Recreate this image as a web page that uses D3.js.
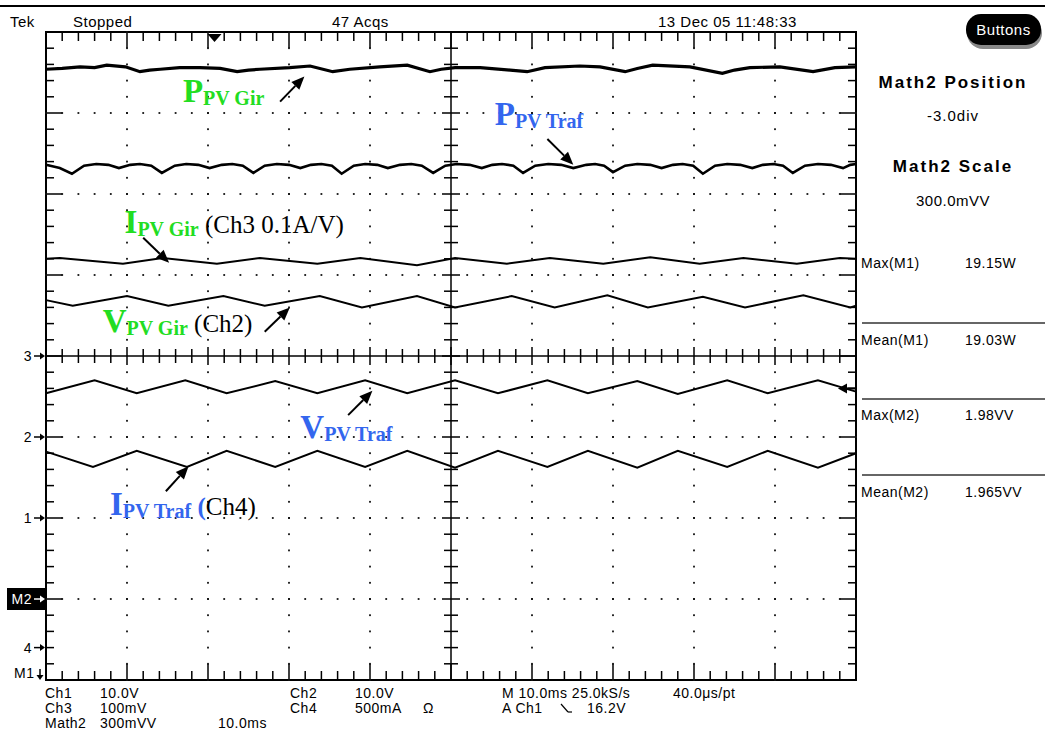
<!DOCTYPE html>
<html>
<head>
<meta charset="utf-8">
<script src="https://cdn.jsdelivr.net/npm/d3@7"></script>
<style>
body { margin: 0; background: #fff; }
text { font-family: "Liberation Sans", Arial, sans-serif; }
.scope { font-size: 15px; letter-spacing: 0.5px; fill: #000; }
.small { font-size: 14px; letter-spacing: 0.5px; fill: #000; }
.ann { font-family: "Liberation Serif", "Times New Roman", serif; }
</style>
</head>
<body>
<svg id="scope" width="1045" height="747"></svg>
<script>
// traces: [time in ms, level in divisions] (10 ms/div, centre line = 0)
var pGir = [[0,3.54],[2.0,3.55],[4.2,3.57],[6.0,3.56],[7.5,3.59],[9.8,3.57],[11.6,3.51],[12.8,3.53],[14.1,3.54],
  [16.5,3.56],[19.0,3.56],[21.5,3.55],[23.6,3.51],[25.0,3.53],[26.4,3.54],[30.1,3.56],[32.6,3.58],[35.4,3.51],
  [37.5,3.54],[41.2,3.57],[44.6,3.59],[47.4,3.51],[48.8,3.54],[50.5,3.56],[53.6,3.56],[57.3,3.53],[59.4,3.51],
  [61.6,3.56],[65.9,3.58],[68.4,3.57],[71.5,3.51],[73.0,3.55],[74.9,3.59],[79.5,3.57],[83.5,3.49],[85.0,3.53],
  [86.9,3.56],[90.6,3.57],[94.7,3.51],[97.4,3.56],[100,3.57]];

var pTraf = [[0,2.36],[1.7,2.32],[3.2,2.25],[4.7,2.35],[6.2,2.37],[7.7,2.36],[9.0,2.32],
  [10.4,2.36],[11.6,2.37],[13.0,2.35],[14.3,2.26],[15.9,2.35],[17.3,2.37],[18.8,2.36],[20.2,2.32],
  [21.7,2.36],[23.0,2.37],[24.3,2.35],[25.6,2.26],[27.0,2.35],[28.5,2.37],[30.0,2.36],[31.4,2.32],
  [32.7,2.36],[34.0,2.37],[35.3,2.35],[36.5,2.25],[38.0,2.35],[39.4,2.37],[40.9,2.36],[42.2,2.32],
  [43.7,2.36],[45.1,2.37],[46.4,2.35],[47.8,2.26],[49.3,2.35],[50.7,2.37],[52.3,2.36],[53.8,2.32],
  [55.1,2.36],[56.3,2.37],[57.7,2.35],[58.9,2.26],[60.4,2.35],[62.0,2.37],[63.6,2.36],[65.1,2.32],
  [66.7,2.36],[67.8,2.37],[68.9,2.35],[70.0,2.27],[71.5,2.35],[73.0,2.37],[74.6,2.36],[76.0,2.32],
  [77.4,2.36],[78.6,2.37],[79.9,2.35],[81.1,2.25],[82.6,2.35],[84.1,2.37],[85.7,2.36],[87.2,2.32],
  [88.5,2.36],[89.8,2.37],[91.0,2.35],[92.2,2.26],[93.7,2.35],[95.3,2.37],[96.9,2.36],[98.4,2.32],
  [99.3,2.36],[100,2.37]];

var iGir = [[0,1.20],[1.7,1.21],[9.5,1.14],[14.4,1.21],[21.1,1.14],[26.4,1.21],[33.5,1.14],[38.8,1.21],
  [45.8,1.12],[50.5,1.21],[56.9,1.14],[62.2,1.21],[68.8,1.14],[74.6,1.22],[80.7,1.14],[86.1,1.21],
  [92.7,1.14],[98.0,1.21],[100,1.20]];

var vGir = [[0,0.69],[3.3,0.62],[10.0,0.74],[15.1,0.62],[21.9,0.74],[27.0,0.62],[33.8,0.74],[39.0,0.60],
  [45.8,0.74],[50.5,0.60],[57.5,0.74],[62.8,0.60],[69.3,0.75],[74.3,0.60],[81.1,0.73],[86.3,0.60],
  [93.5,0.75],[99.3,0.60],[100,0.62]];

var vTraf = [[0,-0.46],[6.0,-0.30],[11.2,-0.46],[17.2,-0.30],[22.3,-0.46],[28.3,-0.31],[33.5,-0.46],
  [39.4,-0.30],[44.6,-0.46],[50.5,-0.30],[55.8,-0.46],[61.9,-0.30],[66.9,-0.46],[73.0,-0.31],
  [78.0,-0.47],[84.1,-0.30],[89.1,-0.46],[95.3,-0.30],[100,-0.44]];

var iTraf = [[0,-1.18],[5.8,-1.37],[11.2,-1.17],[17.4,-1.37],[22.3,-1.17],[28.3,-1.37],[33.5,-1.17],
  [39.4,-1.37],[44.6,-1.17],[50.5,-1.38],[55.8,-1.17],[61.9,-1.37],[66.9,-1.17],[73.0,-1.38],
  [78.0,-1.17],[84.1,-1.37],[89.1,-1.17],[95.3,-1.38],[100,-1.20]];

var traces = [
  {data: pGir, width: 3.2},
  {data: pTraf, width: 2.6},
  {data: iGir, width: 2},
  {data: vGir, width: 2},
  {data: vTraf, width: 2},
  {data: iTraf, width: 2}
];

// channel markers on the left edge
var markerLabels = ["3", "2", "1", "M2", "4"];
var markerLevels = [0, -1, -2, -3, -3.6];
var triggerTime = 20.8;
var triggerLevel = -0.40;

var headerTexts = ["Tek", "Stopped", "47 Acqs", "13 Dec 05 11:48:33"];
var headerX = [10, 73, 332, 658];

var measLabels = ["Max(M1)", "Mean(M1)", "Max(M2)", "Mean(M2)"];
var measValues = ["19.15W", "19.03W", "1.98VV", "1.965VV"];

var settingRows = [
  ["Ch1", "10.0V", "", "Ch2", "10.0V", ""],
  ["Ch3", "100mV", "", "Ch4", "500mA", "\u03a9"],
  ["Math2", "300mVV", "10.0ms", "", "", ""]
];
var timebaseRows = [["M 10.0ms 25.0kS/s", "40.0\u03bcs/pt"], ["A  Ch1", "16.2V"]];

var svg = d3.select("#scope");
var x = d3.scaleLinear().domain([0, 100]).range([46, 856]);
var y = d3.scaleLinear().domain([-4, 4]).range([680, 32]);

// header
svg.append("line").attr("x1", 0).attr("x2", 1045).attr("y1", 6).attr("y2", 6)
  .attr("stroke", "#000").attr("stroke-width", 2);
svg.selectAll(".hdr").data(headerTexts).enter().append("text")
  .attr("class", "scope hdr")
  .attr("x", function(d, i) { return headerX[i]; })
  .attr("y", 27)
  .text(function(d) { return d; });

svg.append("rect").attr("x", 967).attr("y", 17).attr("width", 75).attr("height", 32).attr("rx", 16)
  .attr("fill", "#888");
svg.append("rect").attr("x", 966).attr("y", 14).attr("width", 75).attr("height", 31).attr("rx", 15)
  .attr("fill", "#000");
svg.append("text").attr("class", "scope").attr("x", 1003.5).attr("y", 35)
  .attr("text-anchor", "middle").style("fill", "#fff").text("Buttons");

// graticule
var g = svg.append("g");
var minorX = d3.range(0, 51).map(function(i) { return i * 2; });
var minorY = d3.range(0, 41).map(function(i) { return -4 + i * 0.2; });

g.append("rect").attr("x", x(0)).attr("y", y(4)).attr("width", x(100) - x(0)).attr("height", y(-4) - y(4))
  .attr("fill", "none").attr("stroke", "#000").attr("stroke-width", 2);
g.append("line").attr("x1", x(50)).attr("x2", x(50)).attr("y1", y(4)).attr("y2", y(-4))
  .attr("stroke", "#000").attr("stroke-width", 1.5);
g.append("line").attr("x1", x(0)).attr("x2", x(100)).attr("y1", y(0)).attr("y2", y(0))
  .attr("stroke", "#000").attr("stroke-width", 1.5);

minorX.forEach(function(t, i) {
  var major = i % 5 === 0;
  var len = major ? 16 : 9;
  g.append("line").attr("x1", x(t)).attr("x2", x(t)).attr("y1", y(4)).attr("y2", y(4) + len)
    .attr("stroke", "#000").attr("stroke-width", 1.5);
  g.append("line").attr("x1", x(t)).attr("x2", x(t)).attr("y1", y(-4)).attr("y2", y(-4) - len)
    .attr("stroke", "#000").attr("stroke-width", 1.5);
  var c = major ? 9 : 7;
  g.append("line").attr("x1", x(t)).attr("x2", x(t)).attr("y1", y(0) - c).attr("y2", y(0) + c)
    .attr("stroke", "#000").attr("stroke-width", 1.5);
});
minorY.forEach(function(v, i) {
  var major = i % 5 === 0;
  var len = major ? 16 : 8;
  g.append("line").attr("x1", x(0)).attr("x2", x(0) + len).attr("y1", y(v)).attr("y2", y(v))
    .attr("stroke", "#000").attr("stroke-width", 1.5);
  g.append("line").attr("x1", x(100)).attr("x2", x(100) - len).attr("y1", y(v)).attr("y2", y(v))
    .attr("stroke", "#000").attr("stroke-width", 1.5);
  var c = major ? 9 : 7;
  g.append("line").attr("x1", x(50) - c).attr("x2", x(50) + c).attr("y1", y(v)).attr("y2", y(v))
    .attr("stroke", "#000").attr("stroke-width", 1.5);
});

// dotted grid lines
var dots = [];
[10, 20, 30, 40, 60, 70, 80, 90].forEach(function(t) {
  minorY.forEach(function(v) { dots.push([t, v]); });
});
[-3, -2, -1, 1, 2, 3].forEach(function(v) {
  minorX.forEach(function(t) { dots.push([t, v]); });
});
g.selectAll(".dot").data(dots).enter().append("rect")
  .attr("x", function(d) { return x(d[0]) - 0.9; })
  .attr("y", function(d) { return y(d[1]) - 0.9; })
  .attr("width", 1.8).attr("height", 1.8).attr("fill", "#111");

// trigger position marker
g.append("path")
  .attr("d", "M" + (x(triggerTime) - 7) + "," + (y(4) + 2) + "L" + (x(triggerTime) + 7) + "," + (y(4) + 2) +
    "L" + x(triggerTime) + "," + (y(4) + 10) + "Z")
  .attr("fill", "#000");

// traces
var line = d3.line().x(function(d) { return x(d[0]); }).y(function(d) { return y(d[1]); });
svg.selectAll(".trace").data(traces).enter().append("path")
  .attr("class", "trace")
  .attr("d", function(d) { return line(d.data); })
  .attr("fill", "none").attr("stroke", "#000")
  .attr("stroke-width", function(d) { return d.width; })
  .attr("stroke-linejoin", "miter");

// trigger level marker at the right edge
svg.append("path")
  .attr("d", "M" + (x(100) - 18) + "," + y(triggerLevel) + "l9,-5v10z")
  .attr("fill", "#000");
svg.append("line").attr("x1", x(100) - 10).attr("x2", x(100)).attr("y1", y(triggerLevel)).attr("y2", y(triggerLevel))
  .attr("stroke", "#000").attr("stroke-width", 2);

// left channel markers
markerLabels.forEach(function(lab, i) {
  var yy = y(markerLevels[i]);
  var isMath = lab === "M2";
  if (isMath) {
    svg.append("rect").attr("x", 7).attr("y", yy - 11).attr("width", 39).attr("height", 22).attr("fill", "#000");
  }
  var col = isMath ? "#fff" : "#000";
  svg.append("text").attr("class", "small").attr("x", 32).attr("y", yy + 5)
    .attr("text-anchor", "end").style("fill", col).text(lab);
  svg.append("line").attr("x1", 34).attr("x2", 42).attr("y1", yy).attr("y2", yy)
    .attr("stroke", col).attr("stroke-width", 1.5);
  svg.append("path").attr("d", "M45," + yy + "l-5,-3.5v7z").attr("fill", col);
});
svg.append("text").attr("class", "small").attr("x", 14).attr("y", 678).text("M1");
svg.append("line").attr("x1", 40).attr("x2", 40).attr("y1", 669).attr("y2", 676).attr("stroke", "#000").attr("stroke-width", 1.5);
svg.append("path").attr("d", "M40,680l-3.5,-5h7z").attr("fill", "#000");

// right panel
var panel = svg.append("g");
panel.append("text").attr("x", 953).attr("y", 88).attr("text-anchor", "middle")
  .style("font-size", "17px").style("font-weight", "bold").style("letter-spacing", "2px").text("Math2 Position");
panel.append("text").attr("class", "scope").attr("x", 953).attr("y", 121).attr("text-anchor", "middle")
  .style("letter-spacing", "1px").text("-3.0div");
panel.append("text").attr("x", 953).attr("y", 172).attr("text-anchor", "middle")
  .style("font-size", "17px").style("font-weight", "bold").style("letter-spacing", "2px").text("Math2 Scale");
panel.append("text").attr("class", "scope").attr("x", 953).attr("y", 206).attr("text-anchor", "middle").text("300.0mVV");

var measY = [268, 345, 420, 497];
panel.selectAll(".ml").data(measLabels).enter().append("text")
  .attr("class", "small ml").attr("x", 861)
  .attr("y", function(d, i) { return measY[i]; })
  .text(function(d) { return d; });
panel.selectAll(".mv").data(measValues).enter().append("text")
  .attr("class", "small mv").attr("x", 965)
  .attr("y", function(d, i) { return measY[i]; })
  .text(function(d) { return d; });
[323, 399, 475].forEach(function(yy) {
  panel.append("line").attr("x1", 862).attr("x2", 1045).attr("y1", yy).attr("y2", yy)
    .attr("stroke", "#333").attr("stroke-width", 1.5);
});

// bottom settings
var colX = [45, 100, 218, 290, 355, 423];
settingRows.forEach(function(row, r) {
  row.forEach(function(s, c) {
    if (s === "") return;
    svg.append("text").attr("class", "small").attr("x", colX[c]).attr("y", 698 + r * 15).text(s);
  });
});
timebaseRows.forEach(function(row, r) {
  svg.append("text").attr("class", "small").attr("x", 502).attr("y", 698 + r * 15).text(row[0]);
  svg.append("text").attr("class", "small").attr("x", r === 0 ? 673 : 587).attr("y", 698 + r * 15).text(row[1]);
});
// falling edge symbol
svg.append("line").attr("x1", 561).attr("x2", 568).attr("y1", 704).attr("y2", 712)
  .attr("stroke", "#000").attr("stroke-width", 1.2);
svg.append("line").attr("x1", 568).attr("x2", 572).attr("y1", 712).attr("y2", 712)
  .attr("stroke", "#000").attr("stroke-width", 1.2);

// annotations (placed in data coordinates)
var green = "#22dd22", blue = "#3366ee";
var labels = [
  {t: 16.9, v: 3.14, big: "P", sub: "PV Gir", col: green, tail: "", tailCol: "#000"},
  {t: 55.4, v: 2.85, big: "P", sub: "PV Traf", col: blue, tail: "", tailCol: "#000"},
  {t: 9.7, v: 1.52, big: "I", sub: "PV Gir", col: green, tail: " (Ch3 0.1A/V)", tailCol: "#000"},
  {t: 7.0, v: 0.30, big: "V", sub: "PV Gir", col: green, tail: " (Ch2)", tailCol: "#000"},
  {t: 31.4, v: -1.01, big: "V", sub: "PV Traf", col: blue, tail: "", tailCol: "#000"},
  {t: 7.9, v: -1.96, big: "I", sub: "PV Traf", col: blue, tail: "Ch4)", tailCol: "#000", paren: true}
];
var arrows = [
  [[28.9, 3.14], [31.9, 3.45]],
  [[61.9, 2.68], [65.1, 2.36]],
  [[12.0, 1.46], [15.2, 1.15]],
  [[27.0, 0.30], [30.1, 0.60]],
  [[37.3, -0.73], [40.3, -0.43]],
  [[14.8, -1.67], [17.6, -1.36]]
];

labels.forEach(function(d) {
  var t = svg.append("text").attr("class", "ann").attr("x", x(d.t)).attr("y", y(d.v));
  t.append("tspan").style("font-size", "33px").style("font-weight", "bold").style("fill", d.col).text(d.big);
  t.append("tspan").attr("dy", 3).style("font-size", "20px").style("font-weight", "bold").style("fill", d.col).text(d.sub);
  if (d.paren) {
    t.append("tspan").attr("dy", -3).style("font-size", "25px").style("font-weight", "bold").style("fill", d.col).text(" (");
    t.append("tspan").style("font-size", "25px").style("fill", d.tailCol).text(d.tail);
  } else if (d.tail) {
    t.append("tspan").attr("dy", -3).style("font-size", "25px").style("fill", d.tailCol).text(d.tail);
  }
});

arrows.forEach(function(a) {
  var x1 = x(a[0][0]), y1 = y(a[0][1]), x2 = x(a[1][0]), y2 = y(a[1][1]);
  var ang = Math.atan2(y2 - y1, x2 - x1);
  var hl = 13, hw = 5.5;
  var bx = x2 - hl * Math.cos(ang), by = y2 - hl * Math.sin(ang);
  svg.append("line").attr("x1", x1).attr("y1", y1).attr("x2", bx).attr("y2", by)
    .attr("stroke", "#000").attr("stroke-width", 2);
  svg.append("path")
    .attr("d", "M" + x2 + "," + y2 +
      "L" + (bx + hw * Math.sin(ang)) + "," + (by - hw * Math.cos(ang)) +
      "L" + (bx - hw * Math.sin(ang)) + "," + (by + hw * Math.cos(ang)) + "Z")
    .attr("fill", "#000");
});
</script>
</body>
</html>
